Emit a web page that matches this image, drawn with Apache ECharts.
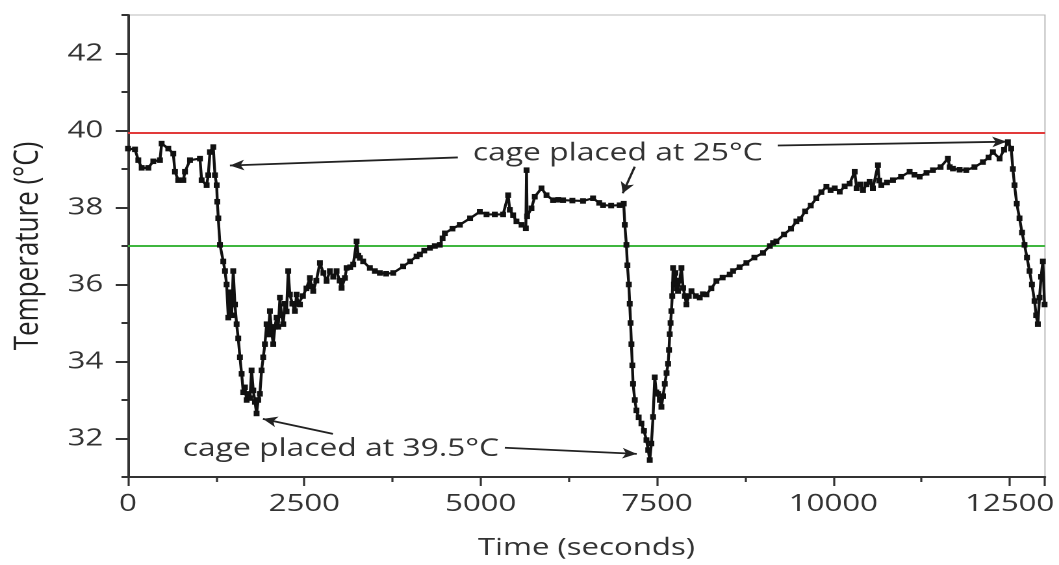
<!DOCTYPE html>
<html>
<head>
<meta charset="utf-8">
<script src="https://cdn.jsdelivr.net/npm/echarts@6/dist/echarts.min.js"></script>
<style>
html,body{margin:0;padding:0;background:#fff;overflow:hidden}
#wrap{width:1059px;height:565px;overflow:hidden}
#c{width:815px;height:565px;transform:scaleX(1.29939);transform-origin:0 0}
</style>
</head>
<body>
<div id="wrap"><div id="c"></div></div>
<script>
// time (s) and temperature (°C) readings
const times = [0,99,146,194,288,359,453,477,571,642,666,713,784,808,879,1020,1044,1115,1138,1162,1209,1233,1257,1266,1280,1304,1351,1375,1398,1422,1445,1470,1492,1516,1540,1563,1587,1611,1634,1658,1682,1705,1729,1752,1776,1800,1823,1846,1870,1894,1917,1941,1965,1988,2012,2035,2059,2083,2106,2130,2154,2177,2201,2224,2248,2271,2295,2330,2366,2390,2413,2437,2480,2530,2579,2600,2626,2670,2721,2770,2815,2862,2910,2957,3000,3028,3075,3099,3150,3193,3241,3265,3288,3334,3429,3500,3571,3660,3760,3901,4000,4091,4138,4200,4280,4350,4421,4460,4492,4600,4704,4850,4988,5083,5200,5318,5389,5413,5460,5507,5580,5640,5650,5658,5720,5767,5862,5933,6027,6100,6168,6300,6451,6593,6680,6735,6850,6971,7028,7043,7066,7080,7100,7113,7125,7137,7150,7160,7185,7208,7240,7279,7315,7350,7375,7397,7420,7444,7468,7490,7515,7540,7562,7585,7610,7635,7657,7670,7680,7692,7704,7716,7728,7740,7760,7780,7798,7820,7846,7870,7895,7917,7950,7988,8050,8106,8150,8200,8270,8342,8430,8531,8578,8670,8767,8880,9003,9100,9145,9192,9300,9400,9476,9530,9600,9680,9759,9830,9901,9960,10020,10090,10160,10231,10302,10330,10380,10420,10470,10514,10560,10632,10650,10680,10760,10845,10960,11081,11150,11223,11320,11412,11520,11624,11650,11695,11790,11884,12000,12120,12200,12262,12356,12420,12474,12521,12545,12568,12600,12639,12675,12710,12745,12781,12815,12852,12875,12899,12923,12945,12970,12994];
const temps = [39.53,39.51,39.23,39.03,39.03,39.2,39.23,39.66,39.53,39.4,38.93,38.71,38.71,38.93,39.23,39.27,38.71,38.58,38.84,39.44,39.57,38.84,38.58,38.15,37.72,37.03,36.6,36.35,36.0,35.14,35.8,35.2,36.35,35.48,34.97,34.6,34.11,33.68,33.2,33.33,33.0,33.16,33.05,33.77,33.25,32.95,32.65,33.0,33.16,33.77,34.11,34.45,34.97,34.7,35.31,34.8,34.45,34.9,35.14,34.9,35.66,35.2,34.97,35.5,35.3,36.35,35.74,35.5,35.31,35.74,35.5,35.48,35.7,35.9,36.17,35.95,35.83,36.1,36.56,36.3,36.09,36.35,36.2,36.35,36.1,35.91,36.17,36.43,36.45,36.52,37.12,36.75,36.69,36.6,36.43,36.35,36.3,36.28,36.3,36.47,36.6,36.73,36.78,36.88,36.95,37.0,37.03,37.2,37.33,37.45,37.55,37.72,37.89,37.82,37.82,37.82,38.32,37.94,37.8,37.64,37.55,37.46,38.97,37.77,37.98,38.28,38.5,38.32,38.19,38.2,38.19,38.18,38.17,38.24,38.12,38.06,38.05,38.06,38.1,37.55,37.03,36.5,36.0,35.5,35.0,34.45,33.9,33.42,33.0,32.73,32.55,32.39,32.2,31.96,31.7,31.44,31.87,32.56,33.59,33.2,33.16,33.0,32.82,33.1,33.42,33.7,33.94,34.3,34.71,35.0,35.31,35.7,36.43,36.0,36.3,35.9,35.83,36.1,36.43,35.91,35.7,35.48,35.7,35.83,35.7,35.66,35.75,35.74,35.9,36.09,36.18,36.26,36.35,36.45,36.56,36.7,36.82,37.0,37.08,37.12,37.3,37.45,37.64,37.7,37.9,38.05,38.24,38.4,38.54,38.45,38.5,38.41,38.55,38.62,38.93,38.5,38.6,38.45,38.6,38.67,38.5,39.1,38.7,38.58,38.65,38.71,38.8,38.93,38.85,38.8,38.9,38.97,39.05,39.27,39.05,39.01,38.98,38.97,39.05,39.18,39.3,39.44,39.27,39.5,39.7,39.53,39.0,38.58,38.1,37.72,37.35,37.03,36.7,36.35,36.0,35.57,35.2,34.97,35.66,36.2,36.6,35.48];

const upperLimit = 39.95;
const lowerLimit = 37.0;

const xTicks = [0, 2500, 5000, 7500, 10000, 12500];
const yTicks = [32, 34, 36, 38, 40, 42];

// annotation texts [time, temp, text]
const noteTexts = [
  [6943, 39.40, 'cage placed at 25°C'],
  [3018, 31.73, 'cage placed at 39.5°C']
];
// annotation arrows [fromTime, fromTemp, toTime, toTemp]
const noteArrows = [
  [4676, 39.30, 1445, 39.09],
  [7184, 39.06, 7014, 38.37],
  [9211, 39.61, 12455, 39.71],
  [2905, 32.12, 1913, 32.51],
  [5342, 31.76, 7212, 31.60]
];

const F = "'Open Sans', 'DejaVu Sans', sans-serif";
const chart = echarts.init(document.getElementById('c'), null, {renderer: 'canvas', devicePixelRatio: 2});
const pts = times.map((t, i) => [t, temps[i]]);

chart.setOption({
  animation: false,
  backgroundColor: '#fff',
  grid: {left: 98.5, right: 10.8, top: 15, bottom: 86, show: true, borderColor: '#bbb', borderWidth: 1},
  xAxis: {
    type: 'value', min: 0, max: 13000, interval: 2500,
    axisLine: {lineStyle: {color: '#333', width: 2}},
    axisTick: {inside: false, length: 9, lineStyle: {color: '#333', width: 1.6}},
    minorTick: {show: true, splitNumber: 2, length: 5, lineStyle: {color: '#333', width: 1.6}},
    splitLine: {show: false},
    axisLabel: {fontSize: 24, color: '#333', fontFamily: F, margin: 15,
      customValues: xTicks, formatter: v => String(v)},
    name: 'Time (seconds)', nameLocation: 'middle', nameGap: 59,
    nameTextStyle: {fontSize: 24, color: '#333', fontFamily: F}
  },
  yAxis: [{
    type: 'value', min: 31, max: 43,
    axisLine: {show: true, lineStyle: {color: '#333', width: 2}},
    axisTick: {show: true, length: 9.5, customValues: yTicks, lineStyle: {color: '#333', width: 2}},
    splitLine: {show: false},
    axisLabel: {fontSize: 24, color: '#333', fontFamily: F, margin: 19, customValues: yTicks},
    name: 'Temperature (°C)', nameLocation: 'middle', nameGap: 64, nameRotate: 90,
    nameTextStyle: {fontSize: 26, color: '#222', fontFamily: F}
  }, {
    type: 'value', min: 31, max: 43, interval: 1, position: 'left', offset: 0,
    axisLine: {show: false},
    axisTick: {show: true, length: 5, lineStyle: {color: '#333', width: 2}},
    axisLabel: {show: false}, splitLine: {show: false}
  }],
  series: [{
    type: 'line', data: pts, yAxisIndex: 0,
    symbol: 'rect', symbolSize: [4.5, 5.5], showAllSymbol: true,
    lineStyle: {color: '#111', width: 2.2},
    itemStyle: {color: '#111'},
    z: 5,
    markLine: {
      silent: true, symbol: 'none', animation: false,
      label: {show: false},
      data: [
        {yAxis: upperLimit, lineStyle: {color: '#e23a3a', width: 2, type: 'solid'}},
        {yAxis: lowerLimit, lineStyle: {color: '#3fb63f', width: 2, type: 'solid'}}
      ]
    }
  }, {
    type: 'line', data: [], yAxisIndex: 0, z: 6,
    markLine: {
      silent: true, animation: false,
      symbol: ['none', 'arrow'], symbolSize: [8, 11],
      label: {show: false},
      lineStyle: {color: '#222', width: 1.8, type: 'solid'},
      data: noteArrows.map(a => [{coord: [a[0], a[1]]}, {coord: [a[2], a[3]]}])
    },
    markPoint: {
      silent: true, animation: false,
      symbol: 'circle', symbolSize: 1,
      itemStyle: {color: 'rgba(0,0,0,0)'},
      label: {show: true, position: 'inside', fontSize: 24.5, color: '#333', fontFamily: F,
        formatter: p => p.data.txt},
      data: noteTexts.map(n => ({coord: [n[0], n[1]], txt: n[2]}))
    }
  }]
});
</script>
</body>
</html>
